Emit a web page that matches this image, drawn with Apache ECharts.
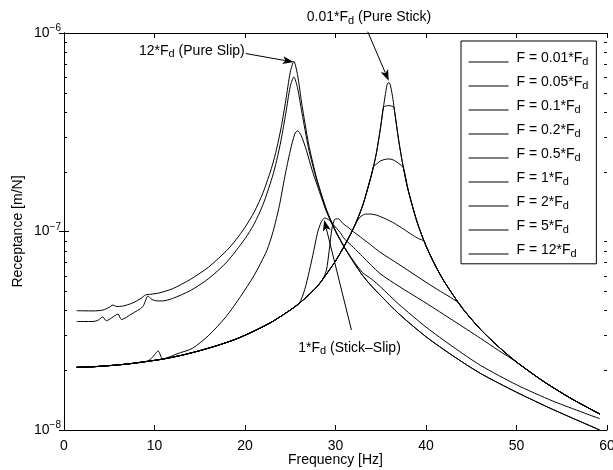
<!DOCTYPE html>
<html><head><meta charset="utf-8">
<script src="https://cdn.jsdelivr.net/npm/echarts@6/dist/echarts.min.js"></script>
<style>html,body{margin:0;padding:0;background:#fff}#c{width:613px;height:470px}</style>
</head><body><div id="c"></div>
<script>
// ---------- data ----------
const seriesNames = ['F = 0.01*F','F = 0.05*F','F = 0.1*F','F = 0.2*F','F = 0.5*F','F = 1*F','F = 2*F','F = 5*F','F = 12*F'];
const xTickValues = [0,10,20,30,40,50,60];
const yMinorTicks = [2e-8,3e-8,4e-8,5e-8,6e-8,7e-8,8e-8,9e-8,2e-7,3e-7,4e-7,5e-7,6e-7,7e-7,8e-7,9e-7];

// F = 0.01*Fd (pure stick)
const f001 = [[1.4,2.07e-8],[3,2.08e-8],[5,2.11e-8],[7,2.15e-8],[9,2.21e-8],[11,2.28e-8],[13,2.38e-8],[15,2.51e-8],[17,2.67e-8],[19,2.87e-8],[21,3.15e-8],[23,3.51e-8],[25,4.02e-8],[26,4.35e-8],[27,4.77e-8],[28,5.30e-8],[29,6.1e-8],[30,7.1e-8],[31,8.5e-8],[32,1.04e-7],[33,1.35e-7],[34,1.95e-7],[34.5,2.46e-7],[35,3.39e-7],[35.3,4.23e-7],[35.5,4.88e-7],[35.8,5.61e-7],[36,5.58e-7],[36.3,4.80e-7],[36.5,4.12e-7],[37,2.84e-7],[37.5,2.095e-7],[38,1.636e-7],[39,1.122e-7],[40,8.46e-8],[41,6.78e-8],[42,5.61e-8],[44,4.12e-8],[46,3.22e-8],[48,2.63e-8],[50,2.20e-8],[53,1.755e-8],[56,1.444e-8],[59.2,1.204e-8]];
// F = 0.05*Fd
const f005 = [[1.4,2.07e-8],[3,2.08e-8],[5,2.11e-8],[7,2.15e-8],[9,2.21e-8],[11,2.28e-8],[13,2.38e-8],[15,2.51e-8],[17,2.67e-8],[19,2.87e-8],[21,3.15e-8],[23,3.51e-8],[25,4.02e-8],[26,4.35e-8],[27,4.77e-8],[28,5.30e-8],[29,6.1e-8],[30,7.1e-8],[31,8.5e-8],[32,1.04e-7],[33,1.35e-7],[34,1.95e-7],[34.5,2.46e-7],[35,3.39e-7],[35.3,4.23e-7],[35.6,4.29e-7],[35.9,4.31e-7],[36.2,4.28e-7],[36.45,4.24e-7],[36.5,4.12e-7],[37,2.84e-7],[37.5,2.095e-7],[38,1.636e-7],[39,1.122e-7],[40,8.46e-8],[41,6.78e-8],[42,5.61e-8],[44,4.12e-8],[46,3.22e-8],[48,2.63e-8],[50,2.20e-8],[53,1.755e-8],[56,1.444e-8],[59.2,1.204e-8]];
// F = 0.1*Fd
const f01 = [[1.4,2.07e-8],[3,2.08e-8],[5,2.11e-8],[7,2.15e-8],[9,2.21e-8],[11,2.28e-8],[13,2.38e-8],[15,2.51e-8],[17,2.67e-8],[19,2.87e-8],[21,3.15e-8],[23,3.51e-8],[25,4.02e-8],[26,4.35e-8],[27,4.77e-8],[28,5.30e-8],[29,6.1e-8],[30,7.1e-8],[31,8.5e-8],[32,1.04e-7],[33,1.35e-7],[34,1.95e-7],[34.2,2.12e-7],[34.6,2.20e-7],[35,2.27e-7],[35.5,2.31e-7],[36,2.32e-7],[36.5,2.28e-7],[37,2.20e-7],[37.5,2.095e-7],[38,1.636e-7],[39,1.122e-7],[40,8.46e-8],[41,6.78e-8],[42,5.61e-8],[44,4.12e-8],[46,3.22e-8],[48,2.63e-8],[50,2.20e-8],[53,1.755e-8],[56,1.444e-8],[59.2,1.204e-8]];
// F = 0.2*Fd
const f02 = [[1.4,2.07e-8],[3,2.08e-8],[5,2.11e-8],[7,2.15e-8],[9,2.21e-8],[11,2.28e-8],[13,2.38e-8],[15,2.51e-8],[17,2.67e-8],[19,2.87e-8],[21,3.15e-8],[23,3.51e-8],[25,4.02e-8],[26,4.35e-8],[27,4.77e-8],[28,5.30e-8],[29,6.1e-8],[30,7.1e-8],[31,8.5e-8],[31.7,9.8e-8],[32.2,1.09e-7],[32.7,1.18e-7],[33.2,1.22e-7],[33.8,1.225e-7],[34.5,1.21e-7],[35.5,1.16e-7],[36.5,1.10e-7],[37.5,1.03e-7],[38.5,9.6e-8],[39.2,9.2e-8],[39.8,8.95e-8],[40,8.46e-8],[41,6.78e-8],[42,5.61e-8],[44,4.12e-8],[46,3.22e-8],[48,2.63e-8],[50,2.20e-8],[53,1.755e-8],[56,1.444e-8],[59.2,1.204e-8]];
// F = 0.5*Fd
const f05 = [[1.4,2.07e-8],[3,2.08e-8],[5,2.11e-8],[7,2.15e-8],[9,2.21e-8],[11,2.28e-8],[13,2.38e-8],[15,2.51e-8],[17,2.67e-8],[19,2.87e-8],[21,3.15e-8],[23,3.51e-8],[25,4.02e-8],[26,4.35e-8],[27,4.77e-8],[28,5.30e-8],[28.6,5.75e-8],[29.0,6.4e-8],[29.3,8.0e-8],[29.6,1.03e-7],[29.9,1.15e-7],[30.3,1.16e-7],[30.8,1.10e-7],[31.5,1.04e-7],[32,9.96e-8],[33,9.2e-8],[34,8.49e-8],[34.9,7.88e-8],[37,6.83e-8],[39,5.95e-8],[41,5.19e-8],[43.6,4.38e-8],[44,4.12e-8],[46,3.22e-8],[48,2.63e-8],[50,2.20e-8],[53,1.755e-8],[56,1.444e-8],[59.2,1.204e-8]];
// F = 1*Fd (stick-slip)
const f1 = [[1.4,2.07e-8],[3,2.08e-8],[5,2.11e-8],[7,2.15e-8],[9,2.21e-8],[11,2.28e-8],[13,2.38e-8],[15,2.51e-8],[17,2.67e-8],[19,2.87e-8],[21,3.15e-8],[23,3.51e-8],[25,4.02e-8],[26,4.35e-8],[26.6,5.1e-8],[27.1,6.3e-8],[27.6,8.0e-8],[28,9.8e-8],[28.4,1.11e-7],[28.8,1.17e-7],[29.2,1.15e-7],[29.7,1.09e-7],[30.5,9.9e-8],[31,9.17e-8],[32,8.3e-8],[33,7.47e-8],[34.9,6.15e-8],[37,5.3e-8],[40,4.36e-8],[43,3.56e-8],[46,2.9e-8],[48,2.52e-8],[50,2.20e-8],[53,1.755e-8],[56,1.444e-8],[59.2,1.204e-8]];
// F = 2*Fd
const f2 = [[1.4,2.07e-8],[3,2.08e-8],[5,2.11e-8],[7,2.15e-8],[9.2,2.22e-8],[9.8,2.33e-8],[10.4,2.50e-8],[10.9,2.28e-8],[11.5,2.32e-8],[12.5,2.42e-8],[14.2,2.58e-8],[16,3.0e-8],[17.9,3.72e-8],[19.5,4.7e-8],[21,6.0e-8],[22.4,8.0e-8],[23.1,1.0e-7],[23.8,1.35e-7],[24.4,1.89e-7],[25,2.55e-7],[25.5,3.1e-7],[25.8,3.22e-7],[26.2,3.05e-7],[26.8,2.55e-7],[27.4,2.05e-7],[28,1.70e-7],[29,1.26e-7],[30,1.0e-7],[31,8.3e-8],[32,7.1e-8],[33,6.2e-8],[34,5.75e-8],[35,5.25e-8],[37,4.3e-8],[40,3.3e-8],[43,2.62e-8],[46,2.12e-8],[50,1.69e-8],[54,1.40e-8],[59.2,1.14e-8]];
// F = 5*Fd
const f5 = [[1.4,3.52e-8],[3.2,3.52e-8],[3.8,3.58e-8],[4.28,3.71e-8],[4.68,3.55e-8],[5.3,3.68e-8],[5.97,3.84e-8],[6.34,3.60e-8],[7.5,3.85e-8],[8.7,4.18e-8],[9.28,4.73e-8],[9.7,4.55e-8],[10.3,4.47e-8],[10.9,4.47e-8],[12,4.6e-8],[14,5.05e-8],[16,5.8e-8],[18,7.03e-8],[20,9.2e-8],[21,1.09e-7],[22,1.37e-7],[23,1.87e-7],[23.5,2.28e-7],[24,2.91e-7],[24.5,3.92e-7],[25,5.38e-7],[25.4,6.0e-7],[25.8,5.3e-7],[26.3,3.95e-7],[27,2.65e-7],[27.5,2.14e-7],[28,1.77e-7],[29,1.28e-7],[30,1.01e-7],[31,8.3e-8],[32,7.0e-8],[33,6.0e-8],[34,5.3e-8],[35,4.75e-8],[37,3.85e-8],[40,2.95e-8],[43,2.36e-8],[46,1.93e-8],[50,1.55e-8],[54,1.27e-8],[59.2,1.0e-8]];
// F = 12*Fd (pure slip)
const f12 = [[1.4,3.99e-8],[3.2,3.98e-8],[4.3,4.02e-8],[5.0,4.15e-8],[5.4,4.26e-8],[5.8,4.19e-8],[6.5,4.21e-8],[7.5,4.35e-8],[8.5,4.6e-8],[9.0,4.79e-8],[9.6,4.83e-8],[10.5,4.9e-8],[12,5.15e-8],[14,5.75e-8],[16,6.63e-8],[18,8.04e-8],[19,9.08e-8],[20,1.05e-7],[21,1.25e-7],[22,1.57e-7],[23,2.14e-7],[23.5,2.62e-7],[24,3.35e-7],[24.5,4.55e-7],[25,6.35e-7],[25.4,7.2e-7],[25.8,6.17e-7],[26.3,4.33e-7],[27,2.80e-7],[27.5,2.21e-7],[28,1.795e-7],[29,1.29e-7],[30,1.01e-7],[31,8.3e-8],[32,7.0e-8],[33,6.0e-8],[34,5.3e-8],[35,4.75e-8],[37,3.85e-8],[40,2.95e-8],[43,2.36e-8],[46,1.93e-8],[50,1.55e-8],[54,1.27e-8],[59.2,1.0e-8]];

const seriesData = [f001, f005, f01, f02, f05, f1, f2, f5, f12];

// annotations: text parts [main, subscript, rest]; anchor & arrow in data coordinates
const annotations = [
  { parts: ['12*F', 'd', ' (Pure Slip)'],    anchor: [19.97, 8.13e-7], align: 'right',
    arrowFrom: [20.08, 7.88e-7], arrowTo: [25.38, 7.14e-7] },
  { parts: ['0.01*F', 'd', ' (Pure Stick)'], anchor: [33.7, 1.201e-6], align: 'center',
    arrowFrom: [33.56, 1.015e-6], arrowTo: [35.88, 5.75e-7] },
  { parts: ['1*F', 'd', ' (Stick\u2013Slip)'], anchor: [25.88, 2.594e-8], align: 'left',
    arrowFrom: [31.76, 3.19e-8], arrowTo: [28.75, 1.143e-7] }
];

// ---------- chart ----------
const FONT = '"Liberation Sans", Arial, Helvetica, sans-serif';
const FS = 14;
const richLegend = {
  a: { fontFamily: FONT, fontSize: FS, color: '#000', lineHeight: 14, verticalAlign: 'top' },
  s: { fontFamily: FONT, fontSize: 11, color: '#000', lineHeight: 22, verticalAlign: 'middle' }
};
const richNote = {
  a: { fontFamily: FONT, fontSize: FS, color: '#000', lineHeight: 14 },
  s: { fontFamily: FONT, fontSize: 11, color: '#000', lineHeight: 11, padding: [7, 0, 0, 0] }
};

const chart = echarts.init(document.getElementById('c'), null, { renderer: 'canvas' });

const lineSeries = seriesNames.map((name, i) => ({
  name: name,
  type: 'line',
  xAxisIndex: 0, yAxisIndex: 0,
  data: seriesData[i],
  symbol: 'none',
  smooth: 0.25,
  lineStyle: { color: '#000', width: 1 },
  itemStyle: { color: '#000' },
  z: 3,
  animation: false
}));

const minorTickSeries = {
  type: 'custom', silent: true, animation: false, z: 4,
  xAxisIndex: 0, yAxisIndex: 0,
  data: yMinorTicks.map(v => [xTickValues[0], v]),
  encode: { x: 0, y: 1 },
  renderItem: function (params, api) {
    const v = api.value(1);
    const l = api.coord([xTickValues[0], v]);
    const r = api.coord([xTickValues[xTickValues.length - 1], v]);
    const y = Math.round(l[1]) + 0.5;
    return { type: 'group', children: [
      { type: 'line', shape: { x1: l[0], y1: y, x2: l[0] + 3, y2: y }, style: { stroke: '#000', lineWidth: 1 } },
      { type: 'line', shape: { x1: r[0] - 3, y1: y, x2: r[0], y2: y }, style: { stroke: '#000', lineWidth: 1 } }
    ]};
  }
};

const axisLineStyle = { show: true, lineStyle: { color: '#000', width: 1 } };
const supFmt = function (v) {
  const e = Math.round(Math.log10(v));
  return '{b|10}{s|' + (e < 0 ? '\u2212' : '') + Math.abs(e) + '}';
};

chart.setOption({
  animation: false,
  backgroundColor: '#fff',
  textStyle: { fontFamily: FONT, color: '#000' },
  grid: { left: 64, right: 6, top: 33, bottom: 40, containLabel: false, outerBoundsMode: 'none' },
  xAxis: [
    { type: 'value', position: 'bottom', min: 0, max: 60, interval: 10,
      name: 'Frequency [Hz]', nameLocation: 'middle', nameGap: 23, nameMoveOverlap: false,
      nameTextStyle: { fontFamily: FONT, fontSize: FS, color: '#000' },
      axisLine: axisLineStyle, splitLine: { show: false },
      axisTick: { show: true, inside: true, length: 5, lineStyle: { color: '#000' } },
      axisLabel: { show: true, margin: 9, fontFamily: FONT, fontSize: FS, color: '#000' } },
    { type: 'value', position: 'top', min: 0, max: 60, interval: 10,
      axisLine: axisLineStyle, splitLine: { show: false },
      axisTick: { show: true, inside: true, length: 5, lineStyle: { color: '#000' } },
      axisLabel: { show: false } }
  ],
  yAxis: [
    { type: 'log', logBase: 10, position: 'left', min: 1e-8, max: 1e-6,
      name: 'Receptance [m/N]', nameLocation: 'middle', nameGap: 38.5, nameRotate: 90,
      nameMoveOverlap: false,
      nameTextStyle: { fontFamily: FONT, fontSize: FS, color: '#000' },
      axisLine: axisLineStyle, splitLine: { show: false },
      axisTick: { show: true, inside: true, length: 5, lineStyle: { color: '#000' } },
      axisLabel: { show: true, margin: 3, formatter: supFmt,
        rich: { b: { fontFamily: FONT, fontSize: FS, color: '#000' },
                s: { fontFamily: FONT, fontSize: 10, color: '#000', padding: [0, 0, 9, 0] } } } },
    { type: 'log', logBase: 10, position: 'right', min: 1e-8, max: 1e-6,
      axisLine: axisLineStyle, splitLine: { show: false },
      axisTick: { show: true, inside: true, length: 5, lineStyle: { color: '#000' } },
      axisLabel: { show: false } }
  ],
  legend: {
    data: seriesNames,
    orient: 'vertical', left: 461, top: 41,
    padding: [10, 8, 1, 7],
    itemGap: 4.2, itemWidth: 40, itemHeight: 22,
    borderColor: '#000', borderWidth: 1, backgroundColor: '#fff',
    selectedMode: false,
    itemStyle: { opacity: 0 },
    lineStyle: { color: '#000', width: 1 },
    formatter: function (name) { return '{a|' + name + '}{s|d}'; },
    textStyle: { fontFamily: FONT, fontSize: FS, color: '#000', rich: richLegend, padding: [0, 0, 0, 3] }
  },
  series: lineSeries.concat([minorTickSeries])
});

// annotation texts and arrows, positioned through the chart's own scales
function toPx(p) { return chart.convertToPixel({ xAxisIndex: 0, yAxisIndex: 0 }, p); }
const graphics = [];
annotations.forEach(function (a) {
  const t = toPx(a.anchor);
  graphics.push({ type: 'text', x: t[0], y: t[1], z: 10, silent: true,
    style: { text: '{a|' + a.parts[0] + '}{s|' + a.parts[1] + '}{a|' + a.parts[2] + '}',
             rich: richNote, align: a.align, verticalAlign: 'middle', fill: '#000' } });
  const p0 = toPx(a.arrowFrom), p1 = toPx(a.arrowTo);
  const dx = p1[0] - p0[0], dy = p1[1] - p0[1], len = Math.sqrt(dx * dx + dy * dy);
  const ux = dx / len, uy = dy / len, headL = 11, headW = 4;
  const bx = p1[0] - ux * headL, by = p1[1] - uy * headL;
  graphics.push({ type: 'line', z: 10, silent: true,
    shape: { x1: p0[0], y1: p0[1], x2: bx + ux * 2, y2: by + uy * 2 }, style: { stroke: '#000', lineWidth: 1 } });
  graphics.push({ type: 'polygon', z: 10, silent: true,
    shape: { points: [[p1[0], p1[1]], [bx - uy * headW, by + ux * headW], [bx + ux * 2.5, by + uy * 2.5], [bx + uy * headW, by - ux * headW]] },
    style: { fill: '#000' } });
});
chart.setOption({ graphic: graphics });
</script></body></html>
